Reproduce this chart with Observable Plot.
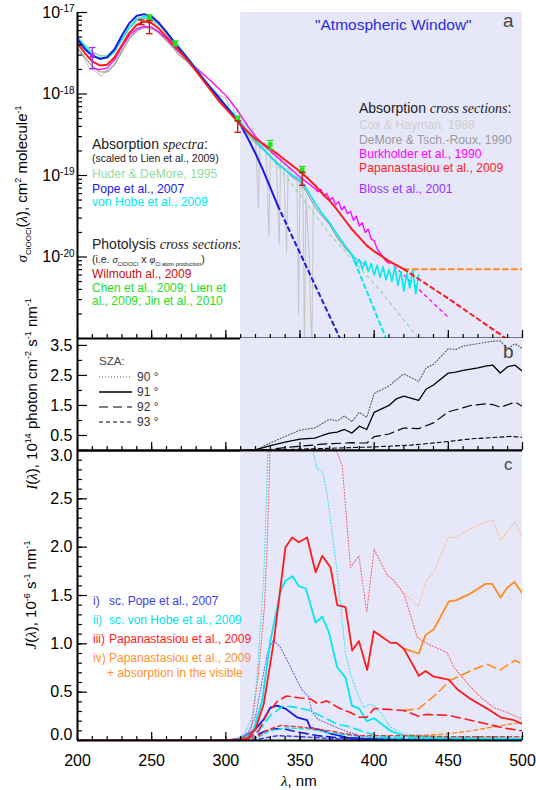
<!DOCTYPE html>
<html><head><meta charset="utf-8">
<script src="https://cdn.jsdelivr.net/npm/d3@7"></script>
<script src="https://cdn.jsdelivr.net/npm/@observablehq/plot@0.6"></script>
<style>
body{margin:0;background:#fff;}
#fig{position:relative;width:536px;height:790px;font-family:"Liberation Sans",Arial,Helvetica,sans-serif;overflow:hidden;background:#fff;}
#fig svg{position:absolute;left:0;overflow:visible;}
.t{position:absolute;white-space:nowrap;line-height:1;}
.it{font-family:"Liberation Serif","DejaVu Serif",serif;font-style:italic;}
.rot{position:absolute;white-space:nowrap;line-height:1;transform:translate(-50%,-50%) rotate(-90deg);font-size:15px;color:#000;}
sub,sup{line-height:0;}
</style></head><body><div id="fig"></div>
<script>
// ---------- wavelength window ----------
const atmWindow = [310, 500];

// ---------- panel a: ClOOCl cross sections, [nm, log10(sigma / cm2 molecule-1)] ----------
const papanastasiou = [[200,-17.38],[205,-17.50],[210,-17.60],[215,-17.65],[220,-17.64],[225,-17.55],[230,-17.40],[235,-17.25],[240,-17.15],[245,-17.11],[250,-17.13],[255,-17.20],[260,-17.30],[265,-17.40],[270,-17.50],[275,-17.60],[280,-17.72],[285,-17.84],[290,-17.96],[295,-18.08],[300,-18.18],[305,-18.28],[310,-18.38],[315,-18.47],[320,-18.55],[325,-18.61],[330,-18.67],[335,-18.74],[340,-18.81],[345,-18.88],[350,-18.95],[355,-19.03],[360,-19.12],[365,-19.22],[370,-19.31],[375,-19.42],[380,-19.54],[385,-19.66],[390,-19.76],[395,-19.86],[400,-19.93],[405,-19.99],[410,-20.05],[415,-20.10],[420,-20.15]];
const papanastasiouExtrap = [[420,-20.15],[450,-20.51],[489,-21.0],[500,-21.14]];
const visibleAbs = [[420,-20.15],[500,-20.15]];
const pope = [[200,-17.33],[205,-17.45],[210,-17.53],[215,-17.57],[220,-17.55],[225,-17.45],[230,-17.28],[235,-17.13],[240,-17.04],[245,-17.02],[250,-17.05],[255,-17.13],[260,-17.24],[265,-17.36],[270,-17.47],[275,-17.58],[280,-17.70],[285,-17.82],[290,-17.93],[295,-18.04],[300,-18.15],[305,-18.26],[310,-18.38],[315,-18.55],[320,-18.73],[325,-18.93],[330,-19.15],[335,-19.37]];
const popeExtrap = [[335,-19.37],[377,-21.0],[380,-21.12]];
const vonHobe = [[200,-17.31],[205,-17.42],[210,-17.52],[215,-17.56],[220,-17.56],[225,-17.48],[230,-17.33],[235,-17.18],[240,-17.08],[245,-17.05],[250,-17.07],[255,-17.14],[260,-17.24],[265,-17.35],[270,-17.46],[275,-17.57],[280,-17.69],[285,-17.81],[290,-17.92],[295,-18.03],[300,-18.14],[305,-18.24],[310,-18.35],[315,-18.46],[320,-18.57],[325,-18.67],[330,-18.77],[335,-18.86],[340,-18.93],[345,-19.00],[350,-19.05],[355,-19.18],[360,-19.33],[365,-19.47],[370,-19.58],[375,-19.72],[380,-19.85],[385,-19.97],[386,-20.00],[388,-20.08],[390,-20.03],[392,-20.15],[394,-20.05],[396,-20.18],[398,-20.08],[400,-20.22],[402,-20.10],[404,-20.25],[406,-20.12],[408,-20.28],[410,-20.15],[412,-20.30],[414,-20.12],[416,-20.35],[418,-20.18],[420,-20.42],[422,-20.20],[424,-20.38],[426,-20.15],[428,-20.45],[430,-20.22]];
const vonHobeExtrap = [[385,-19.97],[395,-20.42],[408,-21.0],[410,-21.09]];
const huder = [[200,-17.30],[205,-17.40],[210,-17.48],[215,-17.53],[220,-17.53],[225,-17.46],[230,-17.33],[235,-17.19],[240,-17.10],[245,-17.07],[250,-17.09],[255,-17.16],[260,-17.26],[265,-17.37],[270,-17.48],[275,-17.59],[280,-17.71],[285,-17.83],[290,-17.94],[295,-18.05],[300,-18.16],[305,-18.27],[310,-18.38],[315,-18.48],[320,-18.58],[325,-18.67],[330,-18.76]];
const huderExtrap = [[330,-18.76],[370,-19.72],[404,-20.41],[430,-21.0]];
const burkholder = [[210,-17.68],[215,-17.70],[220,-17.68],[225,-17.58],[230,-17.42],[235,-17.28],[240,-17.20],[245,-17.17],[250,-17.18],[255,-17.24],[260,-17.32],[265,-17.42],[270,-17.51],[275,-17.60],[280,-17.68],[285,-17.76],[290,-17.84],[295,-17.93],[300,-18.02],[305,-18.13],[310,-18.26],[315,-18.40],[320,-18.52],[325,-18.62],[330,-18.70],[335,-18.78],[340,-18.86],[345,-18.94],[350,-19.02],[355,-19.09],[360,-19.16],[362,-19.20],[364,-19.17],[366,-19.25],[368,-19.22],[370,-19.30],[372,-19.27],[374,-19.36],[376,-19.32],[378,-19.42],[380,-19.38],[382,-19.47],[384,-19.44],[386,-19.55],[388,-19.50],[390,-19.62],[392,-19.58],[394,-19.70],[396,-19.66],[398,-19.78],[400,-19.80],[402,-19.90],[404,-19.95],[406,-20.00],[408,-20.05],[410,-20.08]];
const burkholderExtrap = [[410,-20.05],[450,-20.74]];
const deMore = [[200,-17.43],[205,-17.55],[210,-17.66],[215,-17.73],[220,-17.73],[225,-17.64],[230,-17.48],[235,-17.32],[240,-17.22],[245,-17.18],[250,-17.19],[255,-17.25],[260,-17.34],[265,-17.44],[270,-17.54],[275,-17.62],[280,-17.72],[285,-17.83],[290,-17.93],[295,-18.03],[300,-18.14],[305,-18.25],[310,-18.37],[315,-18.50],[320,-18.60],[325,-18.68],[330,-18.76],[335,-18.85],[340,-18.93],[345,-19.02],[350,-19.08],[355,-19.22],[360,-19.38],[365,-19.50],[370,-19.60],[375,-19.76],[380,-19.88],[385,-19.98],[390,-20.05],[395,-20.10]];
const coxHayman = [[200,-17.45],[204,-17.55],[208,-17.68],[212,-17.72],[216,-17.78],[220,-17.70],[224,-17.66],[228,-17.52],[232,-17.40],[236,-17.30],[240,-17.24],[244,-17.19],[248,-17.20],[252,-17.22],[256,-17.28],[260,-17.35],[264,-17.42],[268,-17.52],[272,-17.57],[276,-17.64],[280,-17.72],[284,-17.78],[288,-17.90],[292,-17.95],[296,-18.02],[300,-18.05],[302,-18.15],[304,-18.10],[306,-18.25],[308,-18.18],[310,-18.30],[312,-18.40],[314,-18.35],[316,-18.50],[318,-18.42],[320,-18.55],[322,-19.40],[323,-18.55],[325,-18.65],[327,-18.60],[329,-19.75],[330,-18.70],[332,-18.75],[334,-18.72],[336,-19.85],[337,-18.78],[339,-18.85],[341,-19.95],[342,-18.90],[344,-18.95],[346,-19.05],[348,-19.00],[349,-20.70],[350,-19.10],[352,-19.20],[353,-21.20],[354,-19.25],[356,-19.90],[358,-21.20],[359,-19.30]];
// measured points: [nm, log10 value, log10 low, log10 high]
const bloss = [[210,-17.53,-17.69,-17.43]];
const wilmouth = [[243,-17.12,-17.15,-17.09],[248.5,-17.18,-17.26,-17.10],[308,-18.40,-18.47,-18.33],[351.5,-19.04,-19.12,-18.96]];
const chen = [[248.5,-17.06,-17.09,-17.03],[266,-17.38,-17.41,-17.35],[308,-18.30,-18.33,-18.27],[330,-18.62,-18.68,-18.57],[351.5,-18.93,-18.97,-18.89]];

// ---------- panel b: actinic flux, 1e14 photon cm-2 s-1 nm-1, by solar zenith angle ----------
const sza90 = [[310,0],[320,0.02],[330,0.25],[340,0.47],[350,0.68],[360,0.75],[365,0.90],[370,1.04],[375,0.98],[380,1.15],[385,0.96],[390,1.27],[395,1.10],[400,1.90],[410,2.15],[415,2.36],[420,2.55],[430,2.30],[435,2.75],[440,2.87],[450,3.39],[455,3.36],[460,3.48],[470,3.56],[480,3.64],[485,3.65],[490,3.39],[495,3.56],[500,3.39]];
const sza91 = [[310,0],[320,0.02],[330,0.16],[340,0.28],[350,0.38],[360,0.41],[365,0.50],[370,0.58],[375,0.61],[380,0.70],[385,0.58],[390,0.81],[395,0.70],[400,1.27],[410,1.50],[415,1.72],[420,1.81],[430,1.67],[435,2.04],[440,2.18],[450,2.58],[455,2.61],[460,2.67],[470,2.75],[475,2.81],[480,2.84],[485,2.58],[490,2.79],[495,2.84],[500,2.64]];
const sza92 = [[315,0],[330,0.04],[345,0.12],[365,0.21],[385,0.26],[390,0.25],[395,0.25],[400,0.46],[410,0.55],[420,0.75],[430,0.73],[440,0.92],[450,1.29],[457,1.38],[465,1.50],[475,1.55],[480,1.53],[485,1.44],[495,1.61],[500,1.47]];
const sza93 = [[320,0],[340,0.03],[367,0.07],[400,0.12],[425,0.18],[448,0.29],[466,0.39],[480,0.43],[492,0.47],[500,0.44]];
const szaLabels = ["90 °", "91 °", "92 °", "93 °"];

// ---------- panel c: photolysis frequency, 1e-6 s-1 nm-1 ----------
const jPope90 = [[200,0],[305,0],[315,0.08],[320,0.25],[324.5,0.62],[328,0.90],[332,1.04],[337,0.96],[343.6,0.76],[348,0.62],[351.5,0.52],[356,0.45],[358,0.30],[362,0.22],[371,0.16],[382,0.09],[393,0.04],[420,0.02],[500,0.01]];
const jPope91 = [[200,0],[300,0],[310,0.02],[319,0.10],[325.6,0.22],[330,0.34],[334.6,0.36],[340,0.33],[348,0.24],[354.8,0.21],[357,0.13],[364,0.11],[370.6,0.07],[382,0.03],[393,0.02],[420,0.01],[500,0.005]];
const jPope92 = [[200,0],[305,0],[316.6,0.03],[330,0.12],[339,0.12],[348,0.09],[361.6,0.05],[375,0.03],[400,0.01],[500,0.005]];
const jPope93 = [[200,0],[310,0],[320,0.01],[335,0.05],[350,0.04],[370,0.02],[400,0.005],[500,0]];
const jHobe90 = [[200,0],[305,0],[312,0.05],[318,0.25],[321,0.65],[325.6,1.70],[328.5,3.05],[335,4.5],[350,4.0],[358,3.05],[361.6,2.81],[365,2.79],[368.3,2.55],[375,1.75],[380.7,0.90],[384,0.69],[389.7,0.45],[393,0.34],[397.5,0.38],[402,0.34],[411,0.14],[420,0.07],[450,0.03],[500,0.02]];
const jHobe91 = [[200,0],[300,0],[310,0.01],[318,0.08],[324.5,0.41],[330,1.03],[337,1.55],[340,1.65],[345,1.70],[349,1.60],[354,1.57],[360.5,1.22],[365,1.28],[369.5,1.12],[375,0.76],[380.7,0.65],[385,0.36],[390,0.33],[395,0.20],[400,0.23],[411,0.10],[420,0.05],[440,0.03],[470,0.02],[500,0.02]];
const jHobe92 = [[200,0],[305,0],[318,0.04],[325,0.15],[330,0.26],[339,0.36],[348,0.34],[357,0.31],[366,0.24],[375,0.17],[384,0.14],[393,0.09],[402,0.05],[420,0.03],[500,0.02]];
const jHobe93 = [[200,0],[310,0],[320,0.02],[330,0.10],[340,0.13],[355,0.12],[370,0.08],[385,0.05],[400,0.03],[420,0.02],[500,0.01]];
const jPap90 = [[200,0],[305,0],[312,0.03],[317,0.10],[322,0.69],[326,1.38],[328,2.07],[330,3.1],[335,4.2],[350,4.8],[365,4.2],[374.6,3.0],[378.5,2.84],[384,1.79],[389.7,1.91],[395,1.33],[400,1.98],[408.8,1.71],[413,1.66],[420,1.52],[429,1.07],[436,1.00],[449,0.91],[453.7,0.76],[462.8,0.59],[471,0.46],[480.7,0.34],[489.7,0.29],[500,0.22]];
const jPap91 = [[200,0],[300,0],[310,0.01],[315,0.03],[320,0.12],[325.6,0.38],[332.4,1.03],[340.2,2.00],[344.7,2.10],[349.2,2.05],[354.8,2.10],[360.5,1.74],[365,1.91],[370.6,1.79],[375.1,1.40],[380.7,1.38],[385.2,0.93],[389.7,1.03],[395.3,0.73],[399.8,1.13],[405.4,1.07],[411,1.01],[415,1.01],[420,0.95],[430.1,0.67],[434.6,0.72],[440.2,0.66],[450.3,0.63],[456,0.53],[465,0.43],[476.2,0.33],[485.2,0.24],[494.2,0.21],[500,0.17]];
const jPap92 = [[200,0],[305,0],[315,0.02],[322,0.10],[328,0.28],[335,0.41],[341,0.46],[350,0.44],[357,0.43],[362,0.38],[368,0.41],[377,0.33],[384,0.29],[390,0.24],[395,0.24],[400,0.33],[411,0.32],[420,0.31],[430,0.25],[435,0.27],[450,0.26],[465,0.21],[476,0.17],[487,0.13],[500,0.10]];
const jPap93 = [[200,0],[310,0],[320,0.03],[330,0.12],[337,0.155],[350,0.14],[360,0.12],[370,0.10],[380,0.07],[390,0.05],[400,0.05],[420,0.05],[450,0.04],[480,0.04],[500,0.04]];
const jPapVis90 = [[420,1.52],[430,1.39],[435,1.65],[440,1.74],[450,2.10],[455,2.10],[465,2.19],[475,2.26],[480,2.28],[485,2.07],[495,2.26],[500,2.10]];
const jPapVis91 = [[420,0.95],[430.1,0.90],[434.6,1.09],[440.2,1.15],[450.3,1.44],[455,1.45],[465,1.52],[475,1.62],[479.6,1.62],[485.2,1.48],[489.7,1.58],[494.6,1.64],[500,1.52]];
const jPapVis92 = [[420,0.31],[430,0.33],[442,0.48],[451,0.62],[465,0.72],[476,0.79],[485,0.73],[495,0.83],[500,0.79]];
const jPapVis93 = [[420,0.05],[430,0.05],[450,0.07],[465,0.10],[480,0.14],[500,0.19]];

// ---------- shared layout ----------
const W = 536, ML = 77, MR = 14;
const FONT = '"Liberation Sans", Arial, Helvetica, sans-serif';
const xMajor = d3.range(200, 501, 50), xMinor = d3.range(200, 501, 10);
const nm = d => d[0];
const blank = () => "";
const fig = document.getElementById("fig");

function xTicks() {
  return [
    Plot.axisX({ticks: xMinor, tickSize: -4, tickFormat: blank, strokeWidth: 1.2}),
    Plot.axisX({ticks: xMajor, tickSize: -8, tickFormat: blank, strokeWidth: 1.2})
  ];
}
function place(svg, top) { svg.style.top = top + "px"; fig.appendChild(svg); return svg; }

// ---------- panel a ----------
const sig = d => 10 ** d[1];
const la = (data, stroke, w, extra = {}) => Plot.line(data, {x: nm, y: sig, stroke, strokeWidth: w, clip: true, ...extra});
const DASH = {strokeDasharray: "4,4"};
const decades = [1e-17, 1e-18, 1e-19, 1e-20];
const logMinor = [];
for (let e = -21; e < -17; e++) for (let k = 2; k < 10; k++) logMinor.push(k * 10 ** e);
function errorBars(data, color, marker) {
  const capW = 2.2;
  const m = [
    Plot.ruleX(data, {x: nm, y1: d => 10 ** d[2], y2: d => 10 ** d[3], stroke: color, strokeWidth: 1.3}),
    Plot.link(data, {x1: d => d[0] - capW, x2: d => d[0] + capW, y1: d => 10 ** d[2], y2: d => 10 ** d[2], stroke: color, strokeWidth: 1.3}),
    Plot.link(data, {x1: d => d[0] - capW, x2: d => d[0] + capW, y1: d => 10 ** d[3], y2: d => 10 ** d[3], stroke: color, strokeWidth: 1.3})
  ];
  if (marker) m.push(Plot.dot(data, {x: nm, y: sig, symbol: "square", r: 2.6, fill: color, stroke: "none"}));
  return m;
}

const panelA = Plot.plot({
  width: W, height: 338, marginLeft: ML, marginRight: MR, marginTop: 12, marginBottom: 0,
  style: {overflow: "visible", fontFamily: FONT, background: "transparent"},
  x: {domain: [200, 500]},
  y: {type: "log", domain: [1e-21, 1e-17]},
  marks: [
    Plot.rect([atmWindow], {x1: d => d[0], x2: d => d[1], fill: "#e7e7fa"}),
    la(coxHayman, "#c8c8c8", 1.1),
    la(deMore, "#9a9a9a", 1.1),
    la(burkholder, "#ff00ff", 1.3),
    la(burkholderExtrap, "#ff00ff", 1.3, {strokeDasharray: "3,4"}),
    la(huderExtrap, "#8fdc9f", 1.2, {strokeDasharray: "3,4"}),
    la(huder, "#8fdc9f", 1.6),
    la(vonHobeExtrap, "#00e8f0", 2, DASH),
    la(vonHobe, "#00e8f0", 1.6),
    la(popeExtrap, "#1a1ae8", 2, DASH),
    la(pope, "#1a1ae8", 2),
    la(visibleAbs, "#ff8c1a", 2, {strokeDasharray: "5,4"}),
    la(papanastasiouExtrap, "#ff1a1a", 2, DASH),
    la(papanastasiou, "#ff1a1a", 2),
    ...errorBars(bloss, "#9b30ff", true),
    ...errorBars(chen, "#22e022", true),
    ...errorBars(wilmouth, "#c41010", false),
    ...xTicks(),
    Plot.axisY({ticks: logMinor, tickSize: -5, tickFormat: blank, strokeWidth: 1.2}),
    Plot.axisY({ticks: decades, tickSize: -10, tickFormat: blank, strokeWidth: 1.2}),
    Plot.axisY({ticks: decades, tickSize: 0, tickPadding: 3, fontSize: 16, tickFormat: d => "10^" + Math.round(Math.log10(d))}),
    Plot.ruleY([1e-21], {stroke: "#000", strokeWidth: 2}),
    Plot.ruleX([200], {stroke: "#000", strokeWidth: 2})
  ]
});
place(panelA, 0);
panelA.querySelectorAll("text").forEach(t => {
  const s = t.textContent;
  if (!s.includes("^")) return;
  const [base, exp] = s.split("^");
  t.textContent = "";
  const ns = "http://www.w3.org/2000/svg";
  const a = document.createElementNS(ns, "tspan"); a.textContent = base;
  const b = document.createElementNS(ns, "tspan"); b.textContent = exp;
  b.setAttribute("dy", "-0.55em"); b.setAttribute("font-size", "10");
  t.append(a, b);
});

// ---------- panel b ----------
const szaStyles = [
  {stroke: "#555", strokeWidth: 1.1, strokeDasharray: "1,2"},
  {stroke: "#000", strokeWidth: 1.3},
  {stroke: "#000", strokeWidth: 1.2, strokeDasharray: "9,5"},
  {stroke: "#000", strokeWidth: 1.1, strokeDasharray: "4,3"}
];
const panelB = Plot.plot({
  width: W, height: 112, marginLeft: ML, marginRight: MR, marginTop: 0, marginBottom: 0,
  style: {overflow: "visible", fontFamily: FONT, background: "transparent"},
  x: {domain: [200, 500]},
  y: {domain: [0, 3.73]},
  marks: [
    Plot.rect([atmWindow], {x1: d => d[0], x2: d => d[1], fill: "#e7e7fa"}),
    ...[sza90, sza91, sza92, sza93].map((s, i) => Plot.line(s, {x: nm, y: d => d[1], clip: true, ...szaStyles[i]})),
    ...xTicks(),
    Plot.axisY({ticks: [1, 2, 3], tickSize: -5, tickFormat: blank, strokeWidth: 1.2}),
    Plot.axisY({ticks: [0.5, 1.5, 2.5, 3.5], tickSize: -10, tickFormat: blank, strokeWidth: 1.2}),
    Plot.axisY({ticks: [0.5, 1.5, 2.5, 3.5], tickSize: 0, tickPadding: 5, fontSize: 16, tickFormat: d3.format(".1f")}),
    Plot.ruleY([0], {stroke: "#000", strokeWidth: 2}),
    Plot.ruleX([200], {stroke: "#000", strokeWidth: 2})
  ]
});
place(panelB, 338);

// ---------- panel c ----------
const cStyle = [
  {strokeWidth: 1.1, strokeDasharray: "1,2"},
  {strokeWidth: 1.8},
  {strokeWidth: 1.6, strokeDasharray: "9,5"},
  {strokeWidth: 1.4, strokeDasharray: "4,3"}
];
const groups = [
  {sets: [jPope90, jPope91, jPope92, jPope93], colors: ["#6a62e0", "#1a1ae8", "#1a1ae8", "#3a3aee"]},
  {sets: [jHobe90, jHobe91, jHobe92, jHobe93], colors: ["#40e2ea", "#00e8f0", "#00e8f0", "#00e8f0"]},
  {sets: [jPapVis90, jPapVis91, jPapVis92, jPapVis93], colors: ["#ffb98a", "#ff8c1a", "#ff8c1a", "#ff8c1a"]},
  {sets: [jPap90, jPap91, jPap92, jPap93], colors: ["#f06666", "#ff1a1a", "#ff1a1a", "#ff3030"]}
];
const cLines = [];
for (const g of groups) g.sets.forEach((s, i) => cLines.push(Plot.line(s, {x: nm, y: d => d[1], stroke: g.colors[i], clip: true, ...cStyle[i]})));
const panelC = Plot.plot({
  width: W, height: 340, marginLeft: ML, marginRight: MR, marginTop: 0, marginBottom: 50,
  style: {overflow: "visible", fontFamily: FONT, background: "transparent"},
  x: {domain: [200, 500]},
  y: {domain: [0, 3]},
  marks: [
    Plot.rect([atmWindow], {x1: d => d[0], x2: d => d[1], fill: "#e7e7fa"}),
    ...cLines,
    ...xTicks(),
    Plot.axisX({ticks: xMajor, tickSize: 0, tickPadding: 14, fontSize: 16, tickFormat: d3.format("d")}),
    Plot.axisY({ticks: d3.range(0, 3.01, 0.1), tickSize: -5, tickFormat: blank, strokeWidth: 1.2}),
    Plot.axisY({ticks: d3.range(0, 3.01, 0.5), tickSize: -10, tickFormat: blank, strokeWidth: 1.2}),
    Plot.axisY({ticks: [0.5, 1, 1.5, 2, 2.5], tickSize: 0, tickPadding: 5, fontSize: 16, tickFormat: d3.format(".1f")}),
    Plot.axisY({ticks: [0], tickSize: 0, tickPadding: 5, fontSize: 16, dy: -6, tickFormat: d3.format(".1f")}),
    Plot.axisY({ticks: [3], tickSize: 0, tickPadding: 5, fontSize: 16, dy: 5, tickFormat: d3.format(".1f")}),
    Plot.ruleY([0], {stroke: "#000", strokeWidth: 2}),
    Plot.ruleY([3], {stroke: "#000", strokeWidth: 2}),
    Plot.ruleX([200], {stroke: "#000", strokeWidth: 2})
  ]
});
place(panelC, 450);

// ---------- text annotations ----------
function txt(html, left, top, size, color, extra = "") {
  const d = document.createElement("div");
  d.className = "t"; d.innerHTML = html;
  d.style.cssText += `left:${left}px;top:${top}px;font-size:${size}px;color:${color};${extra}`;
  fig.appendChild(d); return d;
}
function rot(html, cx, cy) {
  const d = document.createElement("div");
  d.className = "rot"; d.innerHTML = html;
  d.style.left = cx + "px"; d.style.top = cy + "px";
  fig.appendChild(d);
}
const it = s => `<span class="it">${s}</span>`;

txt('"Atmospheric Window"', 315, 17, 15.5, "#2a2ae0");
txt("a", 503, 11, 19, "#444");
txt("b", 503, 342, 19, "#444");
txt("c", 504, 456, 17, "#444");

// panel a legends
txt(`Absorption ${it("spectra")}:`, 92, 137, 14, "#222");
txt("(scaled to Lien et al., 2009)", 92, 153, 10.5, "#222");
txt("Huder &amp; DeMore, 1995", 92, 168, 12.2, "#8fdc9f");
txt("Pope et al., 2007", 92, 183, 12.2, "#1a1ae8");
txt("von Hobe et al., 2009", 92, 196, 12.2, "#00e8f0");
txt(`Photolysis ${it("cross sections")}:`, 92, 237, 14, "#222");
txt(`(i.e. ${it("σ")}<sub style="font-size:6px">ClOOCl</sub> x ${it("φ")}<sub style="font-size:5.5px">Cl atom production</sub>)`, 92, 254, 10.5, "#222");
txt("Wilmouth al., 2009", 92, 268, 12, "#c41010");
txt("Chen et al., 2009; Lien et", 92, 281.5, 12, "#22e022");
txt("al., 2009; Jin et al., 2010", 92, 294.5, 12, "#22e022");

txt(`Absorption ${it("cross sections")}:`, 359, 101, 14, "#222");
txt("Cox &amp; Hayman, 1988", 359, 119, 12.2, "#cfcfcf");
txt("DeMore &amp; Tsch.-Roux, 1990", 359, 134, 12.2, "#9a9a9a");
txt("Burkholder et al., 1990", 359, 148, 12.2, "#ff00ff");
txt("Papanastasiou et al., 2009", 359, 162, 12.2, "#ff1a1a");
txt("Bloss et al., 2001", 359, 183, 12.2, "#9b30ff");

// panel b legend
txt("SZA:", 99, 356, 11.5, "#444");
const szaY = [377, 392, 407, 422];
szaLabels.forEach((lab, i) => {
  const s = szaStyles[i];
  txt(`<svg width="34" height="4" style="position:static;display:block;overflow:visible"><line x1="0" y1="2" x2="33" y2="2" stroke="${s.stroke}" stroke-width="${s.strokeWidth}" stroke-dasharray="${s.strokeDasharray || "none"}"/></svg>`, 99, szaY[i] - 2, 4, "#333", "height:4px");
  txt(lab, 137, szaY[i] - 6, 12, "#333");
});

// panel c legend
const cLeg = [
  ["i)", "sc. Pope et al., 2007", "#3d3dee", 595],
  ["ii)", "sc. von Hobe et al., 2009", "#00e0f0", 614],
  ["iii)", "Papanastasiou et al., 2009", "#ff2020", 633],
  ["iv)", "Papanastasiou et al., 2009", "#ff9030", 652]
];
cLeg.forEach(([n, s, c, y]) => { txt(n, 93, y, 12, c); txt(s, 109, y, 12, c); });
txt("+ absorption in the visible", 107, 667, 12, "#ff9030");

// axis titles
rot(`${it("σ")}<sub style="font-size:8px">ClOOCl</sub>(${it("λ")}), cm<sup style="font-size:9px">2</sup> molecule<sup style="font-size:9px">-1</sup>`, 22, 184);
rot(`${it("I")}(${it("λ")}), 10<sup style="font-size:9px">14</sup> photon cm<sup style="font-size:9px">-2</sup> s<sup style="font-size:9px">-1</sup> nm<sup style="font-size:9px">-1</sup>`, 32, 394);
rot(`${it("J")}(${it("λ")}), 10<sup style="font-size:9px">-6</sup> s<sup style="font-size:9px">-1</sup> nm<sup style="font-size:9px">-1</sup>`, 31, 595);
txt(`${it("λ")}, nm`, 281, 773, 15, "#000");
</script></body></html>
